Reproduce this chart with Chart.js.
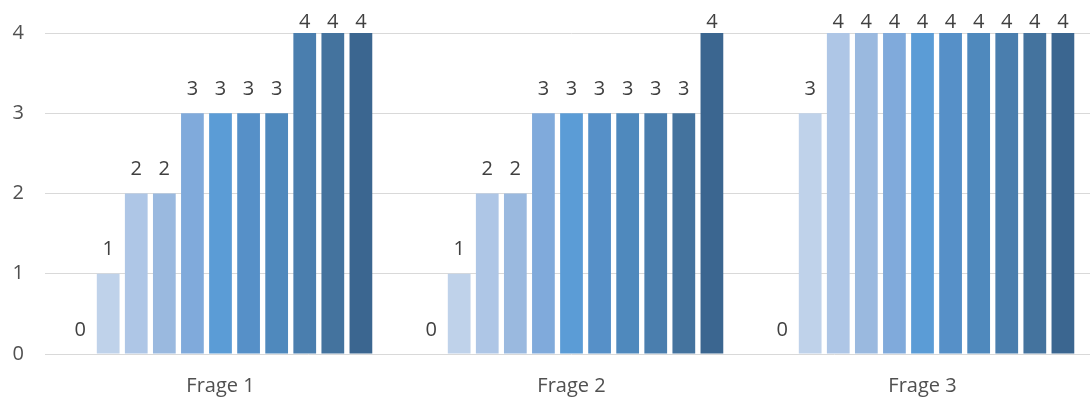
<!DOCTYPE html>
<html>
<head>
<meta charset="utf-8">
<script src="https://cdn.jsdelivr.net/npm/chart.js@4/dist/chart.umd.min.js"></script>
<style>
  html, body { margin: 0; padding: 0; background: #ffffff; overflow: hidden; }
  #wrap { width: 1098px; height: 399px; position: relative; }
</style>
</head>
<body>
<div id="wrap"><canvas id="chart" width="1098" height="399"></canvas></div>
<script>
// Questions shown along the x axis
const categories = ['Frage 1', 'Frage 2', 'Frage 3'];

// Answers per respondent, one array per question
const frage1Values = [0, 1, 2, 2, 3, 3, 3, 3, 4, 4, 4];
const frage2Values = [0, 1, 2, 2, 3, 3, 3, 3, 3, 3, 4];
const frage3Values = [0, 3, 4, 4, 4, 4, 4, 4, 4, 4, 4];

// Y axis ticks
const yTicks = [0, 1, 2, 3, 4];

// Monochromatic blue palette, light to dark
const seriesColors = [
  '#cfdcf0', '#bfd2ea', '#aec6e6', '#9ab9df', '#80aadb', '#5b9cd6',
  '#5690c8', '#4f89bd', '#4a7eae', '#44739e', '#3b6690'
];

const questionValues = [frage1Values, frage2Values, frage3Values];
const datasets = seriesColors.map((color, i) => ({
  label: 'Teilnehmer ' + (i + 1),
  data: questionValues.map(v => v[i]),
  backgroundColor: color,
  borderWidth: 0,
  categoryPercentage: 0.88,
  barPercentage: 0.81
}));

const FONT = '"Open Sans", "DejaVu Sans", sans-serif';

// Value labels above every bar
const valueLabels = {
  id: 'valueLabels',
  afterDatasetsDraw(chart) {
    const ctx = chart.ctx;
    ctx.save();
    ctx.font = '20px ' + FONT;
    ctx.fillStyle = '#404040';
    ctx.textAlign = 'center';
    ctx.textBaseline = 'middle';
    chart.data.datasets.forEach((ds, di) => {
      const meta = chart.getDatasetMeta(di);
      meta.data.forEach((el, idx) => {
        const y = Math.max(el.y - 24, 22);
        ctx.fillText(String(ds.data[idx]), el.x, y);
      });
    });
    ctx.restore();
  }
};

new Chart(document.getElementById('chart'), {
  type: 'bar',
  data: { labels: categories, datasets },
  options: {
    responsive: false,
    animation: false,
    layout: { padding: { top: 32, right: 0, bottom: 0, left: 0 } },
    plugins: {
      legend: { display: false },
      tooltip: { enabled: false }
    },
    scales: {
      x: {
        grid: { display: false, drawTicks: false },
        border: { display: false },
        ticks: { color: '#505050', font: { family: FONT, size: 20 }, padding: 20 },
        afterFit(scale) { scale.height = 45; }
      },
      y: {
        min: 0,
        max: 4,
        afterBuildTicks(scale) { scale.ticks = yTicks.map(v => ({ value: v })); },
        grid: { color: '#d9d9d9', lineWidth: 1, drawTicks: false },
        border: { display: false },
        ticks: { color: '#505050', font: { family: FONT, size: 20 }, padding: 21 },
        afterFit(scale) { scale.width = 45; }
      }
    }
  },
  plugins: [valueLabels]
});
</script>
</body>
</html>
